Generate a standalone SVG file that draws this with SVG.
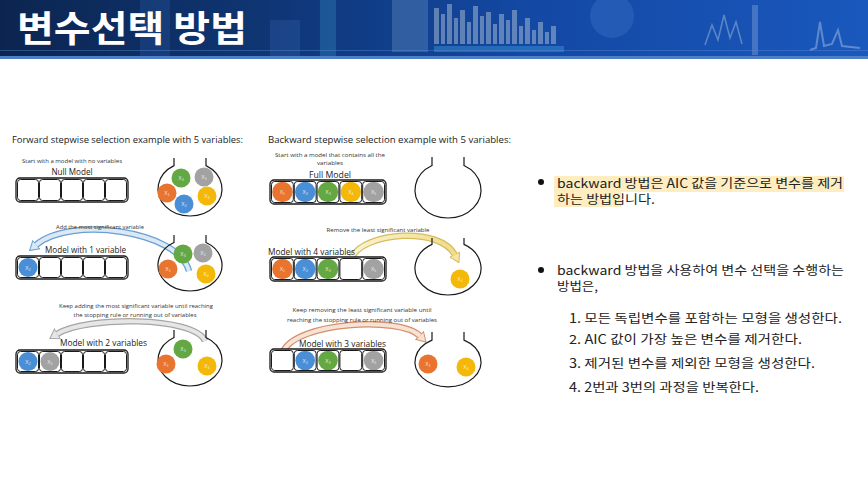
<svg xmlns="http://www.w3.org/2000/svg" width="868" height="483" viewBox="0 0 868 483">
<defs>
<linearGradient id="hdr" x1="0" y1="0" x2="1" y2="0">
<stop offset="0" stop-color="#0c2550"/>
<stop offset="0.3" stop-color="#0f3573"/>
<stop offset="0.6" stop-color="#1348a3"/>
<stop offset="1" stop-color="#1a58bd"/>
</linearGradient>
<linearGradient id="yel" x1="0" y1="0" x2="1" y2="0">
<stop offset="0" stop-color="#fbf3d2"/>
<stop offset="1" stop-color="#f1dc8a"/>
</linearGradient>
<marker id="mBlue" viewBox="0 0 10 12" refX="1" refY="6" markerWidth="10" markerHeight="12" orient="auto" markerUnits="userSpaceOnUse"><path d="M0.5,0.5 L9.5,6 L0.5,11.5 Z" fill="#dbe8f5" stroke="#6b9fd2" stroke-width="1"/></marker>
<marker id="mGray" viewBox="0 0 10 12" refX="1" refY="6" markerWidth="10" markerHeight="12" orient="auto" markerUnits="userSpaceOnUse"><path d="M0.5,0.5 L9.5,6 L0.5,11.5 Z" fill="#e6e6e6" stroke="#a5a5a5" stroke-width="1"/></marker>
<marker id="mYel" viewBox="0 0 10 12" refX="1" refY="6" markerWidth="10" markerHeight="12" orient="auto" markerUnits="userSpaceOnUse"><path d="M0.5,0.5 L9.5,6 L0.5,11.5 Z" fill="#f5e6a8" stroke="#d6bd5c" stroke-width="1"/></marker>
<marker id="mOra" viewBox="0 0 10 12" refX="1" refY="6" markerWidth="10" markerHeight="12" orient="auto" markerUnits="userSpaceOnUse"><path d="M0.5,0.5 L9.5,6 L0.5,11.5 Z" fill="#f7e3d5" stroke="#d68f6c" stroke-width="1"/></marker>
</defs>
<style>
.bar{fill:#fff;stroke:#1a1a1a;stroke-width:1.3}
.slot{fill:none;stroke:#1a1a1a;stroke-width:1}
.bowl{fill:none;stroke:#1a1a1a;stroke-width:1.2}
.o{fill:#e8742f}.b{fill:#4a8fd6}.g{fill:#63a843}.y{fill:#f3b808}.k{fill:#a2a2a2}
.bl{font-family:"Liberation Sans",Arial,sans-serif;font-size:5px;fill:#ffffff;fill-opacity:0.8;text-anchor:middle}
.sub{font-size:3.5px}
.ttl{font-family:"Open Sans","Liberation Sans",sans-serif;font-size:9.5px;fill:#222}
.sm{font-family:"Open Sans","Liberation Sans",sans-serif;font-size:5.5px;fill:#333;text-anchor:middle}
.md{font-family:"Open Sans","Liberation Sans",sans-serif;font-size:9px;fill:#222}
.kr{font-family:"Noto Sans CJK KR","Noto Sans",sans-serif;font-size:12.5px;fill:#222}
.band{fill:none;stroke-width:6.5}
.inner{fill:none;stroke-width:4}
</style>

<rect width="868" height="483" fill="#ffffff"/>

<g id="header">
<rect x="0" y="0" width="868" height="58" fill="url(#hdr)"/>
<rect x="140" y="0" width="30" height="58" fill="#2a5ea8" opacity="0.3"/>
<rect x="270" y="20" width="30" height="38" fill="#3a6fb8" opacity="0.25"/>
<rect x="320" y="0" width="16" height="58" fill="#3b9ad0" opacity="0.3"/>
<rect x="392" y="0" width="36" height="52" fill="#7da4cc" opacity="0.3"/>
<g fill="#9fb6d0" opacity="0.55">
<rect x="434" y="8" width="5" height="36"/><rect x="441" y="14" width="4" height="30"/><rect x="447" y="4" width="5" height="40"/>
<rect x="454" y="18" width="4" height="26"/><rect x="460" y="10" width="5" height="34"/><rect x="467" y="22" width="4" height="22"/>
<rect x="473" y="6" width="5" height="38"/><rect x="480" y="16" width="4" height="28"/><rect x="486" y="12" width="5" height="32"/>
<rect x="493" y="24" width="4" height="20"/><rect x="499" y="14" width="5" height="30"/><rect x="506" y="20" width="4" height="24"/>
<rect x="512" y="10" width="5" height="34"/><rect x="519" y="26" width="4" height="18"/><rect x="525" y="18" width="5" height="26"/>
<rect x="532" y="30" width="4" height="14"/><rect x="538" y="22" width="5" height="22"/><rect x="545" y="32" width="4" height="12"/>
<rect x="551" y="26" width="5" height="18"/>
</g>
<rect x="434" y="46" width="130" height="6" fill="#3a8fd0" opacity="0.5"/>
<circle cx="612" cy="16" r="22" fill="#4a7fd0" opacity="0.3"/>
<path d="M705,45 L712,25 L718,40 L724,15 L730,38 L736,22 L742,44" fill="none" stroke="#c8d8ec" stroke-width="1.5" opacity="0.4"/>
<rect x="752" y="5" width="6" height="50" fill="#c8d8ec" opacity="0.25"/>
<path d="M810,50 L816,48 L820,22 L824,46 L832,44 L838,30 L842,46 L860,48" fill="none" stroke="#c8d8ec" stroke-width="2" opacity="0.4"/>
<rect x="0" y="50" width="868" height="1" fill="#5d8fd6" opacity="0.4"/>
<rect x="0" y="56" width="868" height="3" fill="#4d7fc6"/>
<text x="17" y="42" font-family="Noto Sans CJK KR, Noto Sans, sans-serif" font-size="36" font-weight="bold" fill="#ffffff" textLength="230" lengthAdjust="spacingAndGlyphs">변수선택 방법</text>
</g>

<g id="forward-title"><text class="ttl" x="12" y="143" textLength="231" lengthAdjust="spacingAndGlyphs">Forward stepwise selection example with 5 variables:</text></g>
<g id="backward-title"><text class="ttl" x="268" y="143" textLength="243" lengthAdjust="spacingAndGlyphs">Backward stepwise selection example with 5 variables:</text></g>

<g id="connectors">
<path class="band" stroke="#6b9fd2" d="M189,271 C178,230 70,216 36,245" marker-end="url(#mBlue)"/>
<path class="inner" stroke="#dbe8f5" d="M189,271 C178,230 70,216 36,245"/>
<path class="band" stroke="#a5a5a5" stroke-width="8" d="M205,341 C195,316 85,316 57,334" marker-end="url(#mGray)"/>
<path class="inner" stroke="#e6e6e6" stroke-width="5.5" d="M205,341 C195,316 85,316 57,334"/>
<path class="band" stroke="#d6bd5c" d="M352,257 C365,232 440,226 455,255" marker-end="url(#mYel)"/>
<path class="inner" stroke="url(#yel)" d="M352,257 C365,232 440,226 455,255"/>
<path class="band" stroke="#d68f6c" d="M283,352 C295,322 400,316 420,336" marker-end="url(#mOra)"/>
<path class="inner" stroke="#f7e3d5" d="M283,352 C295,322 400,316 420,336"/>
</g>

<!-- Forward row 1 -->
<g id="f-null-model">
<text class="sm" x="72" y="163" textLength="100" lengthAdjust="spacingAndGlyphs">Start with a model with no variables</text>
<text class="md" x="72" y="175" text-anchor="middle" textLength="41" lengthAdjust="spacingAndGlyphs">Null Model</text>
<rect class="bar" x="16" y="178" width="112" height="24" rx="4"/>
<rect class="slot" x="17.5" y="179.5" width="21" height="21" rx="3"/>
<rect class="slot" x="39.5" y="179.5" width="21" height="21" rx="3"/>
<rect class="slot" x="61.5" y="179.5" width="21" height="21" rx="3"/>
<rect class="slot" x="83.5" y="179.5" width="21" height="21" rx="3"/>
<rect class="slot" x="105.5" y="179.5" width="21" height="21" rx="3"/>
</g>
<g id="f-bowl-1">
<path class="bowl" d="M174,158 L174,165.6 A32,27 0 1,0 206,165.6 L206,158"/>
<circle class="g" cx="181" cy="178" r="9.5"/><text class="bl" x="181" y="180">X<tspan class="sub" dy="1">3</tspan></text>
<circle class="k" cx="204" cy="177" r="9.5"/><text class="bl" x="204" y="179">X<tspan class="sub" dy="1">5</tspan></text>
<circle class="o" cx="167" cy="193" r="9.5"/><text class="bl" x="167" y="195">X<tspan class="sub" dy="1">1</tspan></text>
<circle class="b" cx="184" cy="204" r="9.5"/><text class="bl" x="184" y="206">X<tspan class="sub" dy="1">2</tspan></text>
<circle class="y" cx="207" cy="196" r="9.5"/><text class="bl" x="207" y="198">X<tspan class="sub" dy="1">4</tspan></text>
</g>

<!-- Forward row 2 -->
<g id="f-model-1">
<text class="sm" x="100" y="229" textLength="88" lengthAdjust="spacingAndGlyphs">Add the most significant variable</text>
<text class="md" x="45" y="253" textLength="81" lengthAdjust="spacingAndGlyphs">Model with 1 variable</text>
<rect class="bar" x="16" y="256" width="112" height="23" rx="4"/>
<circle class="b" cx="28" cy="267.5" r="9.5"/><text class="bl" x="28" y="269.5">X<tspan class="sub" dy="1">2</tspan></text>
<rect class="slot" x="17.5" y="257.5" width="21" height="20" rx="3"/>
<rect class="slot" x="39.5" y="257.5" width="21" height="20" rx="3"/>
<rect class="slot" x="61.5" y="257.5" width="21" height="20" rx="3"/>
<rect class="slot" x="83.5" y="257.5" width="21" height="20" rx="3"/>
<rect class="slot" x="105.5" y="257.5" width="21" height="20" rx="3"/>
</g>
<g id="f-bowl-2">
<path class="bowl" d="M174,235 L174,242.5 A32,26 0 1,0 206,242.5 L206,235"/>
<circle class="g" cx="183" cy="254" r="9.5"/><text class="bl" x="183" y="256">X<tspan class="sub" dy="1">3</tspan></text>
<circle class="k" cx="203" cy="253" r="9.5"/><text class="bl" x="203" y="255">X<tspan class="sub" dy="1">5</tspan></text>
<circle class="o" cx="168" cy="269" r="9.5"/><text class="bl" x="168" y="271">X<tspan class="sub" dy="1">1</tspan></text>
<circle class="y" cx="206" cy="274" r="9.5"/><text class="bl" x="206" y="276">X<tspan class="sub" dy="1">4</tspan></text>
</g>

<!-- Forward row 3 -->
<g id="f-model-2">
<text class="sm" x="136" y="308" textLength="154" lengthAdjust="spacingAndGlyphs">Keep adding the most significant variable until reaching</text>
<text class="sm" x="135" y="317" textLength="123" lengthAdjust="spacingAndGlyphs">the stopping rule or running out of variables</text>
<text class="md" x="60" y="346" textLength="87" lengthAdjust="spacingAndGlyphs">Model with 2 variables</text>
<rect class="bar" x="16" y="350" width="112" height="23" rx="4"/>
<circle class="b" cx="28" cy="361.5" r="9.5"/><text class="bl" x="28" y="363.5">X<tspan class="sub" dy="1">2</tspan></text>
<circle class="k" cx="50" cy="361.5" r="9.5"/><text class="bl" x="50" y="363.5">X<tspan class="sub" dy="1">5</tspan></text>
<rect class="slot" x="17.5" y="351.5" width="21" height="20" rx="3"/>
<rect class="slot" x="39.5" y="351.5" width="21" height="20" rx="3"/>
<rect class="slot" x="61.5" y="351.5" width="21" height="20" rx="3"/>
<rect class="slot" x="83.5" y="351.5" width="21" height="20" rx="3"/>
<rect class="slot" x="105.5" y="351.5" width="21" height="20" rx="3"/>
</g>
<g id="f-bowl-3">
<path class="bowl" d="M174,330 L174,337.5 A32,26 0 1,0 206,337.5 L206,330"/>
<circle class="g" cx="183" cy="349" r="9.5"/><text class="bl" x="183" y="351">X<tspan class="sub" dy="1">3</tspan></text>
<circle class="o" cx="166" cy="364" r="9.5"/><text class="bl" x="166" y="366">X<tspan class="sub" dy="1">1</tspan></text>
<circle class="y" cx="207" cy="366" r="9.5"/><text class="bl" x="207" y="368">X<tspan class="sub" dy="1">4</tspan></text>
</g>

<!-- Backward row 1 -->
<g id="b-full-model">
<text class="sm" x="330" y="157" textLength="110" lengthAdjust="spacingAndGlyphs">Start with a model that contains all the</text>
<text class="sm" x="330" y="165" textLength="26" lengthAdjust="spacingAndGlyphs">variables</text>
<text class="md" x="330" y="178" text-anchor="middle" textLength="42" lengthAdjust="spacingAndGlyphs">Full Model</text>
<rect class="bar" x="270" y="180" width="116" height="24" rx="4"/>
<circle class="o" cx="282.4" cy="192" r="10.2"/><text class="bl" x="282.4" y="194">X<tspan class="sub" dy="1">1</tspan></text>
<circle class="b" cx="305.2" cy="192" r="10.2"/><text class="bl" x="305.2" y="194">X<tspan class="sub" dy="1">2</tspan></text>
<circle class="g" cx="328" cy="192" r="10.2"/><text class="bl" x="328" y="194">X<tspan class="sub" dy="1">3</tspan></text>
<circle class="y" cx="350.8" cy="192" r="10.2"/><text class="bl" x="350.8" y="194">X<tspan class="sub" dy="1">4</tspan></text>
<circle class="k" cx="373.6" cy="192" r="10.2"/><text class="bl" x="373.6" y="194">X<tspan class="sub" dy="1">5</tspan></text>
<rect class="slot" x="271.5" y="181.5" width="21.8" height="21" rx="3"/>
<rect class="slot" x="294.3" y="181.5" width="21.8" height="21" rx="3"/>
<rect class="slot" x="317.1" y="181.5" width="21.8" height="21" rx="3"/>
<rect class="slot" x="339.9" y="181.5" width="21.8" height="21" rx="3"/>
<rect class="slot" x="362.7" y="181.5" width="21.8" height="21" rx="3"/>
</g>
<g id="b-bowl-1">
<path class="bowl" d="M432,157 L432,165.5 A33,28 0 1,0 464,165.5 L464,157"/>
</g>

<!-- Backward row 2 -->
<g id="b-model-4">
<text class="sm" x="378" y="232" textLength="103" lengthAdjust="spacingAndGlyphs">Remove the least significant variable</text>
<text class="md" x="268" y="255" textLength="87" lengthAdjust="spacingAndGlyphs">Model with 4 variables</text>
<rect class="bar" x="270" y="257" width="116" height="24" rx="4"/>
<circle class="o" cx="282.4" cy="269" r="10.2"/><text class="bl" x="282.4" y="271">X<tspan class="sub" dy="1">1</tspan></text>
<circle class="b" cx="305.2" cy="269" r="10.2"/><text class="bl" x="305.2" y="271">X<tspan class="sub" dy="1">2</tspan></text>
<circle class="g" cx="328" cy="269" r="10.2"/><text class="bl" x="328" y="271">X<tspan class="sub" dy="1">3</tspan></text>
<circle class="k" cx="373.6" cy="269" r="10.2"/><text class="bl" x="373.6" y="271">X<tspan class="sub" dy="1">5</tspan></text>
<rect class="slot" x="271.5" y="258.5" width="21.8" height="21" rx="3"/>
<rect class="slot" x="294.3" y="258.5" width="21.8" height="21" rx="3"/>
<rect class="slot" x="317.1" y="258.5" width="21.8" height="21" rx="3"/>
<rect class="slot" x="339.9" y="258.5" width="21.8" height="21" rx="3"/>
<rect class="slot" x="362.7" y="258.5" width="21.8" height="21" rx="3"/>
</g>
<g id="b-bowl-2">
<path class="bowl" d="M432,238 L432,244.4 A33,27 0 1,0 464,244.4 L464,238"/>
<circle class="y" cx="460" cy="279" r="9.5"/><text class="bl" x="460" y="281">X<tspan class="sub" dy="1">4</tspan></text>
</g>

<!-- Backward row 3 -->
<g id="b-model-3">
<text class="sm" x="362" y="312" textLength="139" lengthAdjust="spacingAndGlyphs">Keep removing the least significant variable until</text>
<text class="sm" x="362" y="322" textLength="150" lengthAdjust="spacingAndGlyphs">reaching the stopping rule or running out of variables</text>
<text class="md" x="299" y="347" textLength="87" lengthAdjust="spacingAndGlyphs">Model with 3 variables</text>
<rect class="bar" x="270" y="349" width="116" height="23" rx="4"/>
<circle class="b" cx="305.2" cy="360.5" r="9.8"/><text class="bl" x="305.2" y="362.5">X<tspan class="sub" dy="1">2</tspan></text>
<circle class="g" cx="328" cy="360.5" r="9.8"/><text class="bl" x="328" y="362.5">X<tspan class="sub" dy="1">3</tspan></text>
<circle class="k" cx="373.6" cy="360.5" r="9.8"/><text class="bl" x="373.6" y="362.5">X<tspan class="sub" dy="1">5</tspan></text>
<rect class="slot" x="271.5" y="350.5" width="21.8" height="20" rx="3"/>
<rect class="slot" x="294.3" y="350.5" width="21.8" height="20" rx="3"/>
<rect class="slot" x="317.1" y="350.5" width="21.8" height="20" rx="3"/>
<rect class="slot" x="339.9" y="350.5" width="21.8" height="20" rx="3"/>
<rect class="slot" x="362.7" y="350.5" width="21.8" height="20" rx="3"/>
</g>
<g id="b-bowl-3">
<path class="bowl" d="M432,332 L432,340.1 A33,25 0 1,0 464,340.1 L464,332"/>
<circle class="o" cx="428" cy="364" r="9.5"/><text class="bl" x="428" y="366">X<tspan class="sub" dy="1">1</tspan></text>
<circle class="y" cx="466" cy="367" r="9.5"/><text class="bl" x="466" y="369">X<tspan class="sub" dy="1">4</tspan></text>
</g>

<!-- Right text -->
<g id="bullet-1">
<rect x="554" y="176" width="290" height="16" fill="#fdedc0"/>
<rect x="554" y="191" width="67" height="16" fill="#fdedc0"/>
<circle cx="541" cy="182" r="3" fill="#111"/>
<text class="kr" x="557" y="188" textLength="286" lengthAdjust="spacingAndGlyphs">backward 방법은 AIC 값을 기준으로 변수를 제거</text>
<text class="kr" x="557" y="204" textLength="98" lengthAdjust="spacingAndGlyphs">하는 방법입니다.</text>
</g>
<g id="bullet-2">
<circle cx="541" cy="270" r="3" fill="#111"/>
<text class="kr" x="557" y="275" textLength="287" lengthAdjust="spacingAndGlyphs">backward 방법을 사용하여 변수 선택을 수행하는</text>
<text class="kr" x="557" y="291" textLength="41" lengthAdjust="spacingAndGlyphs">방법은,</text>
<text class="kr" x="569" y="323" textLength="273" lengthAdjust="spacingAndGlyphs">1. 모든 독립변수를 포함하는 모형을 생성한다.</text>
<text class="kr" x="569" y="344" textLength="233" lengthAdjust="spacingAndGlyphs">2. AIC 값이 가장 높은 변수를 제거한다.</text>
<text class="kr" x="569" y="368" textLength="246" lengthAdjust="spacingAndGlyphs">3. 제거된 변수를 제외한 모형을 생성한다.</text>
<text class="kr" x="569" y="392" textLength="190" lengthAdjust="spacingAndGlyphs">4. 2번과 3번의 과정을 반복한다.</text>
</g>
</svg>
